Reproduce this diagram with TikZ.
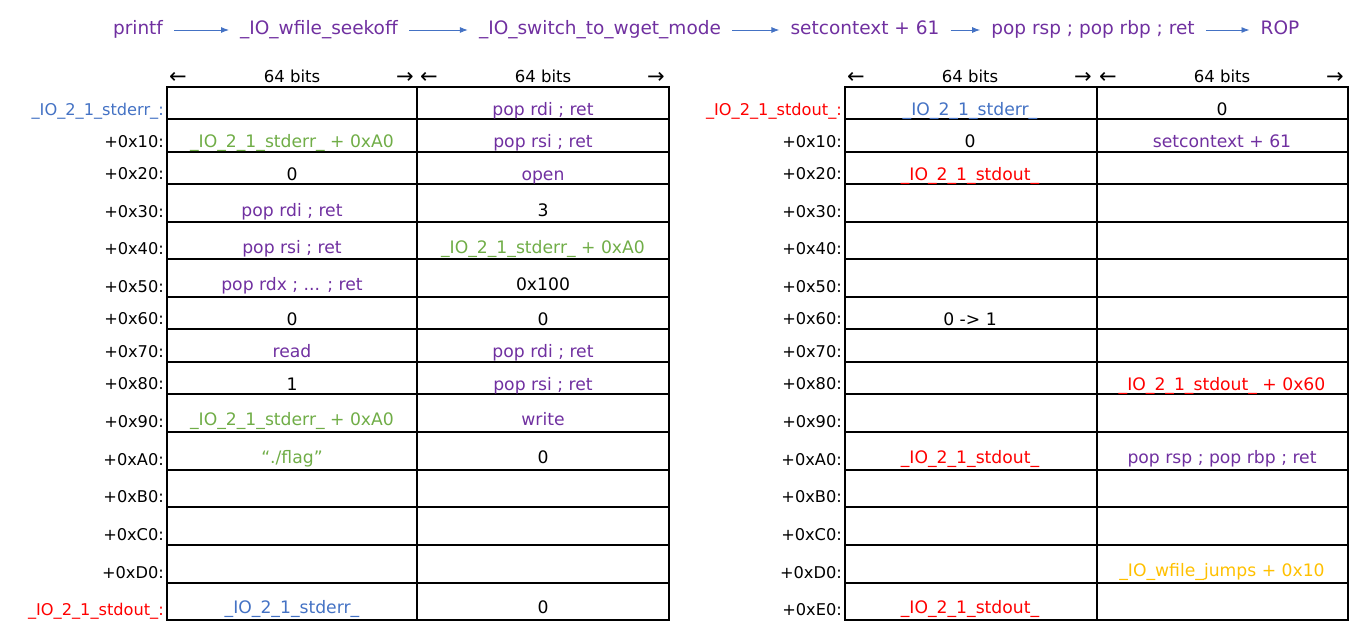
\documentclass[tikz,border=0pt]{standalone}
\usepackage{fontspec}
\setmainfont{DejaVu Sans}
\usetikzlibrary{arrows.meta}
\definecolor{cpurple}{HTML}{7030A0}
\definecolor{cblue}{HTML}{4472C4}
\definecolor{cgreen}{HTML}{70AD47}
\definecolor{cred}{HTML}{FF0000}
\definecolor{corange}{HTML}{FFC000}
\begin{document}
\begin{tikzpicture}[x=1pt,y=-1pt,
  cell/.style={anchor=base, inner sep=0pt, font=\fontsize{17.2}{19}\selectfont},
  lbl/.style={anchor=base east, inner sep=0pt, font=\fontsize{16.2}{18}\selectfont},
  hdr/.style={anchor=base, inner sep=0pt, font=\fontsize{16.5}{18}\selectfont},
  harr/.style={anchor=base, inner sep=0pt, font=\fontsize{21}{22}\selectfont},
  ttl/.style={anchor=base, inner ysep=0pt, inner xsep=11pt, text height=14pt, text depth=4pt,
              text=cpurple, font=\fontsize{18.5}{22}\selectfont},
  flow/.style={draw=cblue, line width=0.9pt, -{Latex[length=8pt,width=6pt]}},
  tblouter/.style={draw=black, line width=1.6pt},
  tblinner/.style={draw=black, line width=1.2pt},
  pur/.style={text=cpurple}, blu/.style={text=cblue}, grn/.style={text=cgreen},
  rd/.style={text=cred}, org/.style={text=corange}
]
\useasboundingbox (0,0) rectangle (1368,634);

% ---- title chain ----
\node[ttl] (t1) at (138,35) {printf};
\node[ttl] (t2) at (319,35) {\_IO\_wfile\_seekoff};
\node[ttl] (t3) at (600,35) {\_IO\_switch\_to\_wget\_mode};
\node[ttl] (t4) at (865,35) {setcontext + 61};
\node[ttl] (t5) at (1093,35) {pop rsp ; pop rbp ; ret};
\node[ttl] (t6) at (1280,35) {ROP};
\draw[flow] (t1.east) -- (t2.west);
\draw[flow] (t2.east) -- (t3.west);
\draw[flow] (t3.east) -- (t4.west);
\draw[flow] (t4.east) -- (t5.west);
\draw[flow] (t5.east) -- (t6.west);

% ---- headers ----
\foreach \c/\n in {292/a,543/b,970/c,1222/d}{
  \node[hdr] (h\n) at (\c,82) {64 bits};
  \node[harr] (hl\n) at (\c-114,83) {←};
  \node[harr] (hr\n) at (\c+113,83) {→};
}

% ---- tables ----
\foreach \xa/\xm/\xb in {167/417/669, 845/1097/1348}{
  \foreach \yy in {119,152,184,222,259,297,329,362,394,432,470,507,545,583}
    \draw[tblinner] (\xa,\yy) -- (\xb,\yy);
  \draw[tblinner] (\xm,87) -- (\xm,620);
  \draw[tblouter] (\xa,87) rectangle (\xb,620);
}

% ---- row labels ----
\node[lbl,blu] (la0) at (164,115) {\_IO\_2\_1\_stderr\_:};
\foreach \yy/\t [count=\i] in {147/10,179/20,217/30,254/40,292/50,324/60,357/70,389/80,427/90,465/A0,502/B0,540/C0,578/D0}{
  \node[lbl] (la\i) at (164,\yy) {+0x\t:};
}
\node[lbl,rd] (la14) at (164,615) {\_IO\_2\_1\_stdout\_:};

\node[lbl,rd] (lb0) at (842,115) {\_IO\_2\_1\_stdout\_:};
\foreach \yy/\t [count=\i] in {147/10,179/20,217/30,254/40,292/50,324/60,357/70,389/80,427/90,465/A0,502/B0,540/C0,578/D0,615/E0}{
  \node[lbl] (lb\i) at (842,\yy) {+0x\t:};
}

% ---- left table contents ----
\node[cell,pur] (a0b) at (543,115) {pop rdi ; ret};
\node[cell,grn] (a1a) at (292,147) {\_IO\_2\_1\_stderr\_ + 0xA0};
\node[cell,pur] (a1b) at (543,147) {pop rsi ; ret};
\node[cell] (a2a) at (292,180) {0};
\node[cell,pur] (a2b) at (543,180) {open};
\node[cell,pur] (a3a) at (292,216) {pop rdi ; ret};
\node[cell] (a3b) at (543,216) {3};
\node[cell,pur] (a4a) at (292,253) {pop rsi ; ret};
\node[cell,grn] (a4b) at (543,253) {\_IO\_2\_1\_stderr\_ + 0xA0};
\node[cell,pur] (a5a) at (292,290) {pop rdx ; ... ; ret};
\node[cell] (a5b) at (543,290) {0x100};
\node[cell] (a6a) at (292,325) {0};
\node[cell] (a6b) at (543,325) {0};
\node[cell,pur] (a7a) at (292,357) {read};
\node[cell,pur] (a7b) at (543,357) {pop rdi ; ret};
\node[cell] (a8a) at (292,390) {1};
\node[cell,pur] (a8b) at (543,390) {pop rsi ; ret};
\node[cell,grn] (a9a) at (292,425) {\_IO\_2\_1\_stderr\_ + 0xA0};
\node[cell,pur] (a9b) at (543,425) {write};
\node[cell,grn] (a10a) at (292,463) {“./flag”};
\node[cell] (a10b) at (543,463) {0};
\node[cell,blu] (a14a) at (292,613) {\_IO\_2\_1\_stderr\_};
\node[cell] (a14b) at (543,613) {0};

% ---- right table contents ----
\node[cell,blu] (b0a) at (970,115) {\_IO\_2\_1\_stderr\_};
\node[cell] (b0b) at (1222,115) {0};
\node[cell] (b1a) at (970,147) {0};
\node[cell,pur] (b1b) at (1222,147) {setcontext + 61};
\node[cell,rd] (b2a) at (970,180) {\_IO\_2\_1\_stdout\_};
\node[cell] (b6a) at (970,325) {0 -> 1};
\node[cell,rd] (b8b) at (1222,390) {\_IO\_2\_1\_stdout\_ + 0x60};
\node[cell,rd] (b10a) at (970,463) {\_IO\_2\_1\_stdout\_};
\node[cell,pur] (b10b) at (1222,463) {pop rsp ; pop rbp ; ret};
\node[cell,org] (b13b) at (1222,576) {\_IO\_wfile\_jumps + 0x10};
\node[cell,rd] (b14a) at (970,613) {\_IO\_2\_1\_stdout\_};
\end{tikzpicture}
\end{document}
